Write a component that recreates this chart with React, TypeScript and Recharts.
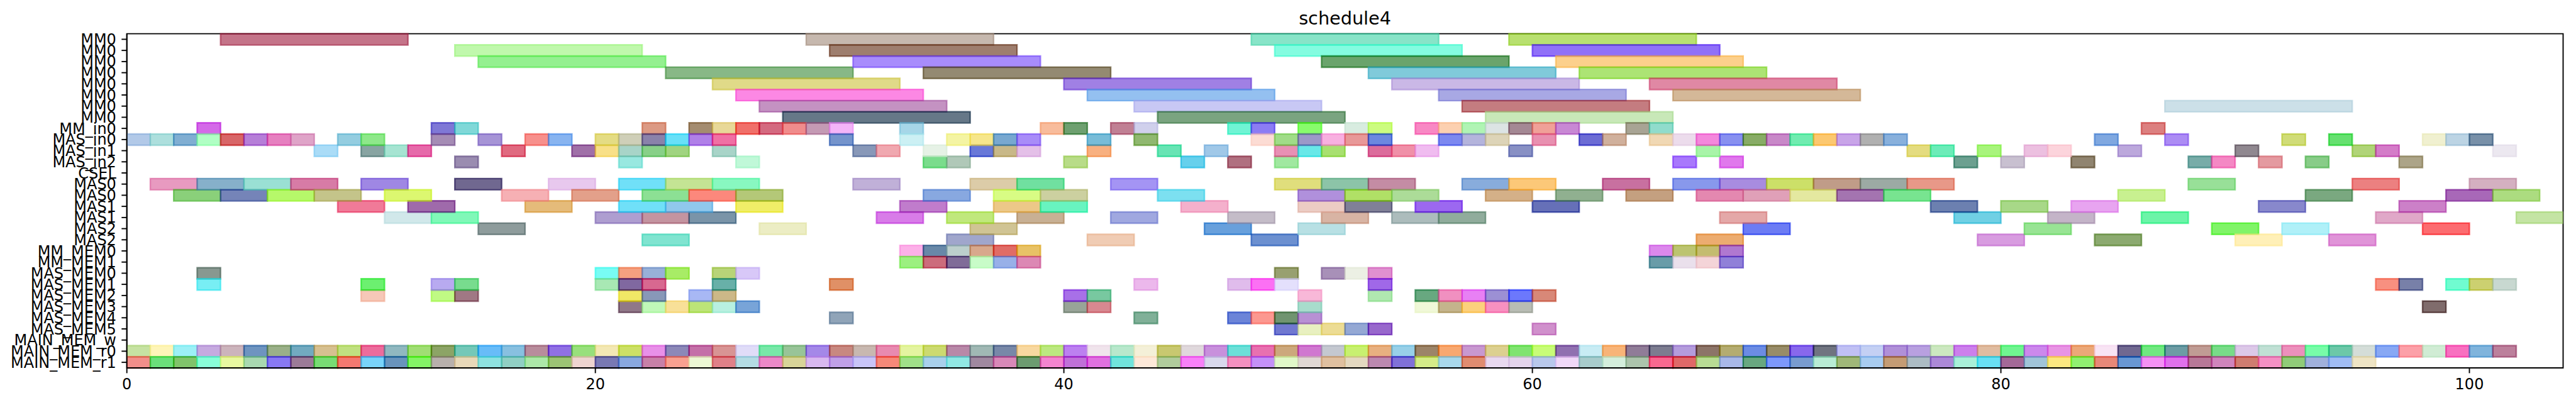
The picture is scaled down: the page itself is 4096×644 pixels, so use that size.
import { BarChart, Bar, XAxis, YAxis, Cell, ReferenceArea } from "recharts";

const FONT = "DejaVu Sans";
const TITLE = "schedule4";
const X_MAX = 104;
const X_TICKS = [0, 20, 40, 60, 80, 100];

const ROW_LABELS = [
  "MM0", "MM0", "MM0", "MM0", "MM0", "MM0", "MM0", "MM0",
  "MM_in0", "MAS_in0", "MAS_in1", "MAS_in2", "CSEL",
  "MAS0", "MAS0", "MAS1", "MAS1", "MAS2", "MAS2",
  "MM_MEM0", "MM_MEM1",
  "MAS_MEM0", "MAS_MEM1", "MAS_MEM2", "MAS_MEM3", "MAS_MEM4", "MAS_MEM5",
  "MAIN_MEM_w", "MAIN_MEM_r0", "MAIN_MEM_r1",
];

// length of one task in each row
const ROW_DURATION = [
  8, 8, 8, 8, 8, 8, 8, 8,
  1, 1, 1, 1, 1,
  2, 2, 2, 2, 2, 2,
  1, 1,
  1, 1, 1, 1, 1, 1,
  1, 1, 1,
];

// task start times, one array per row
const MM0_0 = [4, 29, 48, 59];
const MM0_1 = [14, 30, 49, 60];
const MM0_2 = [15, 31, 51, 61];
const MM0_3 = [23, 34, 53, 62];
const MM0_4 = [25, 40, 54, 65];
const MM0_5 = [26, 41, 56, 66];
const MM0_6 = [27, 43, 57, 87];
const MM0_7 = [28, 44, 58];
const MM_IN0 = [3, 13, 14, 22, 24, 25, 26, 27, 28, 29, 30, 33, 39, 40, 42, 43, 47, 48, 50, 52, 53, 55, 56, 57, 58, 59, 60, 61, 64, 65, 86];
const MAS_IN0 = [0, 1, 2, 3, 4, 5, 6, 7, 9, 10, 13, 15, 17, 18, 20, 21, 22, 23, 24, 25, 30, 33, 35, 36, 37, 38, 41, 43, 48, 49, 50, 51, 52, 53, 56, 57, 58, 60, 62, 63, 65, 66, 67, 68, 69, 70, 71, 72, 73, 74, 75, 84, 87, 92, 94, 98, 99, 100];
const MAS_IN1 = [8, 10, 11, 12, 16, 19, 20, 21, 22, 23, 25, 31, 32, 34, 36, 37, 38, 41, 44, 46, 49, 50, 51, 53, 54, 55, 59, 67, 76, 77, 79, 81, 82, 85, 90, 95, 96, 101];
const MAS_IN2 = [14, 21, 26, 34, 35, 40, 45, 47, 49, 66, 68, 78, 80, 83, 88, 89, 91, 93, 97];
const CSEL: number[] = [];
const MAS0_A = [1, 3, 5, 7, 10, 14, 18, 21, 23, 25, 31, 36, 38, 42, 49, 51, 53, 57, 59, 63, 66, 68, 70, 72, 74, 76, 88, 95, 100];
const MAS0_B = [2, 4, 6, 8, 11, 16, 19, 22, 24, 26, 34, 37, 39, 44, 50, 52, 54, 58, 61, 64, 67, 69, 71, 73, 75, 85, 93, 99, 101];
const MAS1_A = [9, 12, 17, 21, 23, 26, 33, 37, 39, 45, 50, 52, 55, 60, 77, 80, 83, 91, 97];
const MAS1_B = [11, 13, 20, 22, 24, 32, 35, 38, 42, 47, 51, 54, 56, 68, 78, 82, 86, 96, 102];
const MAS2_A = [15, 27, 36, 46, 50, 69, 81, 89, 92, 98];
const MAS2_B = [22, 35, 41, 48, 67, 79, 84, 90, 94];
const MM_MEM0 = [33, 34, 35, 36, 37, 38, 65, 66, 67, 68];
const MM_MEM1 = [33, 34, 35, 36, 37, 38, 65, 66, 67, 68];
const MAS_MEM0 = [3, 20, 21, 22, 23, 25, 26, 49, 51, 52, 53];
const MAS_MEM1 = [3, 10, 13, 14, 20, 21, 22, 25, 30, 43, 47, 48, 49, 53, 96, 97, 99, 100, 101];
const MAS_MEM2 = [10, 13, 14, 21, 22, 24, 25, 40, 41, 50, 53, 55, 56, 57, 58, 59, 60];
const MAS_MEM3 = [21, 22, 23, 24, 25, 26, 40, 41, 50, 55, 56, 57, 58, 59, 98];
const MAS_MEM4 = [30, 43, 47, 48, 49, 50];
const MAS_MEM5 = [49, 50, 51, 52, 53, 60];
const MAIN_MEM_W: number[] = [];
const MAIN_MEM_R0 = [
  0, 1, 2, 3, 4, 5, 6, 7, 8, 9, 10, 11, 12, 13, 14, 15, 16, 17, 18, 19,
  20, 21, 22, 23, 24, 25, 26, 27, 28, 29, 30, 31, 32, 33, 34, 35, 36, 37, 38, 39, 40,
  41, 42, 43, 44, 45, 46, 47, 48, 49, 50, 51, 52, 53, 54, 55, 56, 57, 58, 59, 60, 61,
  62, 63, 64, 65, 66, 67, 68, 69, 70, 71, 72, 73, 74, 75, 76, 77, 78, 79, 80, 81, 82,
  83, 84, 85, 86, 87, 88, 89, 90, 91, 92, 93, 94, 95, 96, 97, 98, 99, 100, 101,
];
const MAIN_MEM_R1 = [
  0, 1, 2, 3, 4, 5, 6, 7, 8, 9, 10, 11, 12, 13, 14, 15, 16, 17, 18, 19,
  20, 21, 22, 23, 24, 25, 26, 27, 28, 29, 30, 31, 32, 33, 34, 35, 36, 37, 38, 39, 40,
  41, 42, 43, 44, 45, 46, 47, 48, 49, 50, 51, 52, 53, 54, 55, 56, 57, 58, 59, 60, 61,
  62, 63, 64, 65, 66, 67, 68, 69, 70, 71, 72, 73, 74, 75, 76, 77, 78, 79, 80, 81, 82,
  83, 84, 85, 86, 87, 88, 89, 90, 91, 92, 93, 94, 95,
];

// colour of each task as it appears (blended on white)
const MM0_0_C = ["#c47489", "#c6b8ae", "#88e4c8", "#b8e070"];
const MM0_1_C = ["#c0f8ac", "#9e7e6e", "#84fce0", "#9070f8"];
const MM0_2_C = ["#94f090", "#a88cfc", "#6aa46c", "#fcd08c"];
const MM0_3_C = ["#88b886", "#948a72", "#80cada", "#ace474"];
const MM0_4_C = ["#e0da88", "#a080e4", "#cab8e6", "#e088a4"];
const MM0_5_C = ["#fc88e4", "#94c0f0", "#a8a8e4", "#d4b898"];
const MM0_6_C = ["#c492c2", "#c8c8f4", "#c47c80", "#cce0e8"];
const MM0_7_C = ["#667888", "#7aa480", "#c8e8b8"];
const MM_IN0_C = ["#d46ae8", "#7f78d6", "#80d8d8", "#dc9a84", "#a48c70", "#e8d898", "#f0706a", "#d46a80", "#f08c8c", "#c49ab4", "#f4b4f8", "#a6d6e8", "#f8bc9c", "#6ea070", "#c08094", "#d0d0ec", "#70f4d4", "#8c7cf4", "#88fc6c", "#d8ece0", "#ccfc80", "#f888c4", "#fcd0b0", "#b0f4b4", "#dce4e4", "#a48894", "#f0a098", "#c888d4", "#a8a494", "#90dccc", "#dc8080"];
const MAS_IN0_C = [
  "#b2c9e8", "#addfdd", "#80aed2", "#b0ffc4", "#d86668", "#b67fd8", "#e680c0", "#dfa4c8",
  "#94cde0", "#8ee88a", "#a58cb5", "#a694d6", "#f7908c", "#88b4f0",
  "#e4dc84", "#cfcfb8", "#8a82aa", "#68e0f8", "#b080e8", "#f070a4",
  "#7594cc", "#ccf0f4", "#f4f4a4", "#f6e68c", "#78a8d0", "#a88cf8", "#78bcd8", "#90b870",
  "#fcdcd4", "#a0dc88", "#9c98c8", "#f8b0e0", "#e89898", "#6c88e0",
  "#7c88f0", "#b4b4dc", "#ddd4b8", "#e890b0", "#6c6cd4", "#d0b09c",
  "#f0d8b4", "#ecdcec", "#f488dc", "#8890f0", "#88ac60", "#c888c8", "#70ecb0", "#fcc870", "#c8a4e8", "#b0b0b0", "#88b0dc",
  "#80a8e0", "#ac8cf4", "#d0dc78", "#64e070", "#f0f0d0", "#bcd4e4", "#7890a8",
];
const MAS_IN1_C = [
  "#aadcf7", "#88a4a2", "#a6e4d2", "#e66aaa", "#e06a80", "#a070a8", "#f8e088", "#a8d4c8", "#88d088", "#a0d480",
  "#a8d4c8", "#8898b8", "#f0a8b0", "#e6f2e6", "#6878d8", "#c8b888", "#e4c0e8", "#f8b080", "#68e4b4", "#a0c8e8",
  "#e890b4", "#68e8e8", "#a8e070", "#dc6c9c", "#f090a8", "#f0bcf0", "#8890c4", "#a8f4a8", "#e4dc80", "#6cecb8",
  "#a8f47c", "#ecc0e0", "#fcd4dc", "#bca8dc", "#908890", "#b0d478", "#d47cc8", "#ece8f0",
];
const MAS_IN2_C = ["#9a8cb0", "#98e8e0", "#c0f8d8", "#7adc8c", "#b0c8b8", "#b8dc88", "#60d0ec", "#b07080", "#a0e8a0", "#a878fc", "#e078ec", "#6ca090", "#c8c0d0", "#908470", "#78aca8", "#f488c4", "#e49aa0", "#88cc88", "#aca488"];
const CSEL_C: string[] = [];
const MAS0_A_C = ["#e89ac0", "#86b0ca", "#9ae0d4", "#d77ba6", "#9f87e4", "#706890", "#e8c8ee", "#70e0f8", "#c4e494", "#88f8c0", "#c0b0d8", "#dccca8", "#70e0a0", "#a494f4", "#e0de7c", "#8cc4a8", "#c48ca4", "#88acdc", "#fcc878", "#c870a0", "#8898ec", "#a88ce0", "#cce068", "#c09c88", "#9caaa4", "#e89888", "#98e098", "#ec8080", "#d4b0c0"];
const MAS0_B_C = ["#8ad07a", "#7584b8", "#b6f86a", "#c4c48a", "#dcf770", "#f6b0b4", "#e3a08a", "#8ce094", "#fc887c", "#b4c878", "#88a8e0", "#d8fc84", "#ccd0a0", "#7ce0f0", "#b090dc", "#b0e064", "#acdc98", "#d4b088", "#90b090", "#c4a080", "#e488b0", "#e0a0b8", "#e4e8a0", "#a474b0", "#78e490", "#c8f090", "#7aa880", "#a868b8", "#acdc80"];
const MAS1_A_C = ["#f07a98", "#9f6aab", "#e5bb7a", "#70e0f8", "#90c8ec", "#f0ee68", "#c07ccc", "#ecc888", "#68f4c0", "#f4b0cc", "#ecccc4", "#808098", "#9c68f0", "#6470b8", "#6c80b0", "#a8d888", "#e8a4f0", "#8888cc", "#cc80c8"];
const MAS1_B_C = ["#d1e8ea", "#80f8b8", "#ae9ed0", "#c494a0", "#7a94a8", "#d87ce8", "#c0e87c", "#c8b094", "#a0a8e0", "#c4bcc8", "#d8b4a4", "#acbcbc", "#90ac9c", "#e4a8a8", "#70d0e4", "#c4b4c8", "#6cf4a8", "#e0a8c8", "#c4e4a4"];
const MAS2_A_C = ["#8e9c9c", "#ecedc4", "#d0c494", "#68a0dc", "#b8e0e4", "#6c7cf4", "#98e494", "#80f468", "#b0f0f8", "#fc6c70"];
const MAS2_B_C = ["#80e4d0", "#a0a6cc", "#f0ccb4", "#6c90d0", "#ecac70", "#d89ce0", "#8caa70", "#fff0b8", "#e094d8"];
const MM_MEM0_C = ["#fcb0e8", "#6888a8", "#bccfcc", "#d8a88c", "#e06c64", "#e8c264", "#dc88ec", "#bcc470", "#c4bc70", "#b078d0"];
const MM_MEM1_C = ["#9cf080", "#cc6c7c", "#806c98", "#c8fcc8", "#98b0e8", "#dc88b4", "#689ca8", "#eae0ec", "#f4d4d8", "#9080d8"];
const MAS_MEM0_C = ["#889890", "#78fcf4", "#f4a080", "#98b0d8", "#a8ec50", "#b8d478", "#d8c8f8", "#98a070", "#a890b8", "#ecf0e4", "#e090d0"];
const MAS_MEM1_C = ["#78eef4", "#6cf070", "#b8aaf0", "#78dc8e", "#a8e8b4", "#8068a0", "#d86890", "#68b0a8", "#e09060", "#ecb8ec", "#e0bcec", "#fc70f4", "#e4e0fc", "#a068e8", "#f89080", "#7880a8", "#70fcd0", "#ccd070", "#c8d8d0"];
const MAS_MEM2_C = ["#f6c8b8", "#c0fa84", "#a07884", "#f0e860", "#8898b8", "#a8b8f4", "#ccb888", "#a870e8", "#78c8a0", "#f8b8d8", "#b0e8b0", "#68a880", "#f090c0", "#e880f4", "#9c90d4", "#6c78fc", "#d88878"];
const MAS_MEM3_C = ["#907888", "#c0f8b8", "#f8e098", "#bce478", "#b8f0e0", "#78a4d8", "#98a498", "#d88890", "#a8dccc", "#f0f8d8", "#c4b48c", "#fcd07c", "#f890c0", "#b8bcb4", "#806c6c"];
const MAS_MEM4_C = ["#90a4b8", "#80b098", "#6c84d8", "#fc9890", "#709470", "#b890d4"];
const MAS_MEM5_C = ["#7078d0", "#e8f0c0", "#ecdc94", "#94a8d4", "#9868cc", "#d090cc"];
const MAIN_MEM_W_C: string[] = [];
const MAIN_MEM_R0_C = [
  "#c6e2a2", "#fef5b8", "#9cf0f6", "#c6aae0", "#ccb4bc", "#6e94c0", "#9ab088", "#72aac0", "#d6c090", "#c0e080",
  "#ec6c9c", "#90b8c0", "#a0de74", "#8ca464", "#74c8b8", "#68bcf8", "#88c0e0", "#b88c9c", "#9070e4", "#98e07c",
  "#f3e8b4", "#cce060", "#e890e8", "#8c88b8", "#c470a8", "#d89494", "#e0dcf8", "#78e8a8", "#98c498", "#a488e8",
  "#c88880", "#c8b8b0", "#e88ab0", "#e4f4a0", "#ccda70", "#b888a8", "#a0b8b4", "#7888a8", "#f8d8a0", "#bce880", "#bc80f0",
  "#f0e4ec", "#b8e8cc", "#f4f0d8", "#c8c870", "#e0d8dc", "#c890dc", "#6ce0d8", "#e870b0", "#cca87c", "#d078d0",
  "#c4c8d0", "#c8f070", "#e8b080", "#98d0e8", "#9c8468", "#f8a870", "#c898d0", "#dcd090", "#80e470", "#c8fc78", "#9070b0",
  "#c8ecf4", "#f8b478", "#907c98", "#7c7c90", "#b49cdc", "#8c7468", "#b4ac70", "#6c8ce4", "#988c68", "#8868ec",
  "#707480", "#c0c0f4", "#c4d0f4", "#b090d8", "#b8a0e0", "#cce8c0", "#cc80ec", "#e0bca0", "#70f490", "#cc88ec", "#e894e4",
  "#eca878", "#f8e4f4", "#706890", "#70e880", "#6c9ca4", "#c09c94", "#78dc88", "#dcc8e8", "#c0e0d4", "#ec90bc",
  "#78fca8", "#6cc8a8", "#d4ddd8", "#88a8f4", "#fca0a8", "#d0ecd4", "#f870c0", "#80b4dc", "#bc809c",
];
const MAIN_MEM_R1_C = [
  "#f28e8a", "#6ae07a", "#80c46a", "#88ffd8", "#e8f8a0", "#a8d8b0", "#8878f4", "#9c7a98", "#78dc74", "#f47870",
  "#78d4fa", "#6894bc", "#84f460", "#b8b0ac", "#e8d8b8", "#8ee2e0", "#90d0c4", "#ace8a8", "#9cc474", "#eed4d0",
  "#7878b4", "#88a8e0", "#c880a8", "#f8a090", "#ecf8d4", "#e08088", "#b4dce4", "#ec88c8", "#d8d498", "#d8b8f0",
  "#c0a0e8", "#c8c4f8", "#f68878", "#a0e088", "#a8d0ec", "#90e8e4", "#a088a0", "#d888b8", "#6c9c70", "#f484d0", "#c070d8",
  "#e070e0", "#70e4dc", "#fde8d8", "#b0cc9c", "#f880f8", "#d8d8ec", "#f490c0", "#c490f8", "#e0f8c8", "#e0d8d4",
  "#e0c0a0", "#e4d8c0", "#bc88b0", "#8070d8", "#d4ec88", "#a8d8ec", "#e08c70", "#e8d8f0", "#e4d4ec", "#b8c8ec", "#f0d8f8",
  "#a8cccc", "#d4eedc", "#acc4ac", "#f86890", "#e06868", "#b8dc94", "#a8b8e8", "#68a880", "#7c98fc", "#789cd0",
  "#b8ecd4", "#a0b878", "#a8ccf0", "#c49c74", "#acbcc4", "#ac88d8", "#a8f0d8", "#68e0f4", "#a46898", "#a0c4d8", "#fce880",
  "#90f070", "#e88878", "#6898d4", "#f490f4", "#e070ec", "#b87898", "#d084bc", "#d07c70", "#f490c4", "#90cc78",
  "#a0b0dc", "#a0bcf4", "#eee4c4",
];

const ROW_STARTS = [
  MM0_0, MM0_1, MM0_2, MM0_3, MM0_4, MM0_5, MM0_6, MM0_7,
  MM_IN0, MAS_IN0, MAS_IN1, MAS_IN2, CSEL,
  MAS0_A, MAS0_B, MAS1_A, MAS1_B, MAS2_A, MAS2_B,
  MM_MEM0, MM_MEM1,
  MAS_MEM0, MAS_MEM1, MAS_MEM2, MAS_MEM3, MAS_MEM4, MAS_MEM5,
  MAIN_MEM_W, MAIN_MEM_R0, MAIN_MEM_R1,
];
const ROW_COLORS = [
  MM0_0_C, MM0_1_C, MM0_2_C, MM0_3_C, MM0_4_C, MM0_5_C, MM0_6_C, MM0_7_C,
  MM_IN0_C, MAS_IN0_C, MAS_IN1_C, MAS_IN2_C, CSEL_C,
  MAS0_A_C, MAS0_B_C, MAS1_A_C, MAS1_B_C, MAS2_A_C, MAS2_B_C,
  MM_MEM0_C, MM_MEM1_C,
  MAS_MEM0_C, MAS_MEM1_C, MAS_MEM2_C, MAS_MEM3_C, MAS_MEM4_C, MAS_MEM5_C,
  MAIN_MEM_W_C, MAIN_MEM_R0_C, MAIN_MEM_R1_C,
];

const ALPHA = 0.6;

// undo the white blend so fill + opacity gives the seen colour
function baseColor(hex: string) {
  const n = parseInt(hex.slice(1), 16);
  const ch = [(n >> 16) & 255, (n >> 8) & 255, n & 255].map((c) =>
    Math.max(0, Math.min(255, Math.round((c - 255 * (1 - ALPHA)) / ALPHA)))
  );
  return `rgb(${ch.join(",")})`;
}

type Seg = { len: number; color: string | null };

// each row becomes a stack of gap / task segments
const rowSegments: Seg[][] = ROW_STARTS.map((starts, r) => {
  const segs: Seg[] = [];
  let cursor = 0;
  starts.forEach((s, i) => {
    if (s > cursor) segs.push({ len: s - cursor, color: null });
    segs.push({ len: ROW_DURATION[r], color: ROW_COLORS[r][i] });
    cursor = s + ROW_DURATION[r];
  });
  return segs;
});

const SEG_COUNT = Math.max(...rowSegments.map((s) => s.length));

const chartData = rowSegments.map((segs, r) => {
  const d: Record<string, number> = { row: r };
  for (let k = 0; k < SEG_COUNT; k++) d[`s${k}`] = segs[k] ? segs[k].len : 0;
  return d;
});

const AXIS_LINE = { stroke: "#000", strokeWidth: 1.9 };
const TICK_STYLE = { fontSize: 24, fill: "#000", fontFamily: FONT };

export default function App() {
  return (
    <div style={{ position: "absolute", left: 0, top: 0, width: 4096, height: 644, background: "#fff" }}>
      <div
        style={{
          position: "absolute",
          left: 201.7,
          width: 3873.8,
          top: 14.5,
          textAlign: "center",
          fontFamily: FONT,
          fontSize: 28.7,
          lineHeight: "28.7px",
          color: "#000",
        }}
      >
        {TITLE}
      </div>
      <BarChart
        width={4096}
        height={644}
        data={chartData}
        layout="vertical"
        barCategoryGap={0}
        margin={{ top: 53.6, right: 20.5, bottom: 0, left: 0 }}
      >
        {Array.from({ length: SEG_COUNT }, (_, k) => (
          <Bar key={k} dataKey={`s${k}`} stackId="sched" isAnimationActive={false}>
            {rowSegments.map((segs, r) => {
              const seg = segs[k];
              if (!seg || !seg.color) return <Cell key={r} fill="none" stroke="none" />;
              const c = baseColor(seg.color);
              return (
                <Cell
                  key={r}
                  fill={c}
                  fillOpacity={ALPHA}
                  stroke={c}
                  strokeOpacity={ALPHA}
                  strokeWidth={2.4}
                />
              );
            })}
          </Bar>
        ))}
        {/* full frame box like matplotlib spines */}
        <ReferenceArea
          x1={0}
          x2={X_MAX}
          fill="none"
          stroke="#000"
          strokeWidth={1.9}
          fillOpacity={0}
          ifOverflow="visible"
        />
        <XAxis
          type="number"
          domain={[0, X_MAX]}
          ticks={X_TICKS}
          allowDataOverflow
          interval={0}
          height={59}
          tickSize={8.4}
          tickMargin={8.4}
          tick={TICK_STYLE}
          axisLine={AXIS_LINE}
          tickLine={AXIS_LINE}
        />
        <YAxis
          type="category"
          dataKey="row"
          width={201.7}
          interval={0}
          tickSize={8.4}
          tickMargin={8.4}
          tickFormatter={(v: number) => ROW_LABELS[v]}
          tick={TICK_STYLE}
          axisLine={AXIS_LINE}
          tickLine={AXIS_LINE}
        />
      </BarChart>
    </div>
  );
}
